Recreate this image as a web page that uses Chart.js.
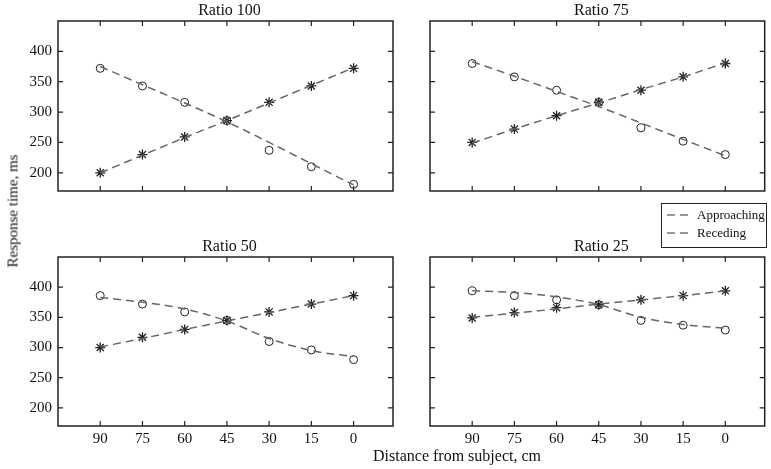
<!DOCTYPE html>
<html>
<head>
<meta charset="utf-8">
<script src="https://cdn.jsdelivr.net/npm/chart.js@4"></script>
<style>
  body { margin: 0; background: #fff; font-family: "Liberation Serif", serif; }
  #page { position: relative; width: 771px; height: 469px; overflow: hidden; }
  .panel { position: absolute; }
  .axis-label { position: absolute; font-size: 16px; color: #111; white-space: nowrap; }
  #ylabel { left: 13px; top: 211px; transform: translate(-50%, -50%) rotate(-90deg); font-size: 15px; }
  #xlabel { left: 457px; top: 456px; transform: translate(-50%, -50%); }
  #legend {
    position: absolute; left: 661px; top: 203px; width: 104px; height: 41px;
    border: 1.5px solid #222; font-size: 13px; color: #111; padding: 2px 0 0 0;
  }
  #legend .row { display: flex; align-items: center; height: 18px; }
  #legend svg { margin: 0 8px 0 5px; }
</style>
</head>
<body>
<div id="page">
  <div class="panel" style="left:0;top:0;width:400px;height:200px"><canvas id="c100"></canvas></div>
  <div class="panel" style="left:400px;top:0;width:371px;height:200px"><canvas id="c75"></canvas></div>
  <div class="panel" style="left:0;top:230px;width:400px;height:230px"><canvas id="c50"></canvas></div>
  <div class="panel" style="left:400px;top:230px;width:371px;height:230px"><canvas id="c25"></canvas></div>

  <div id="ylabel" class="axis-label">Response time, ms</div>
  <div id="xlabel" class="axis-label">Distance from subject, cm</div>

  <div id="legend">
    <div class="row"><svg width="22" height="4"><line x1="0" y1="2" x2="22" y2="2" stroke="#777" stroke-width="1.5" stroke-dasharray="8,5"/></svg>Approaching</div>
    <div class="row"><svg width="22" height="4"><line x1="0" y1="2" x2="22" y2="2" stroke="#777" stroke-width="1.5" stroke-dasharray="8,5"/></svg>Receding</div>
  </div>
</div>

<script>
  // Distance from subject, cm
  const distances = [90, 75, 60, 45, 30, 15, 0];
  const xTicks = [90, 75, 60, 45, 30, 15, 0];
  const yTicks = [200, 250, 300, 350, 400];

  // Ratio 100
  const approach100 = [372, 343, 316, 286, 237, 210, 181];
  const recede100 = [200, 230, 259, 286, 316, 343, 372];
  const approachFit100 = [375, 345, 315, 284, 250, 215, 180];
  const recedeFit100 = [200, 229, 258, 286, 315, 344, 373];

  // Ratio 75
  const approach75 = [380, 358, 336, 316, 274, 252, 230];
  const recede75 = [250, 272, 294, 316, 336, 358, 380];
  const approachFit75 = [383, 359, 334, 309, 282, 255, 228];
  const recedeFit75 = [249, 272, 294, 315, 337, 358, 381];

  // Ratio 50
  const approach50 = [386, 372, 359, 345, 310, 296, 280];
  const recede50 = [300, 317, 330, 345, 359, 372, 386];
  const approachFit50 = [383, 375, 364, 344, 315, 295, 285];
  const recedeFit50 = [301, 315, 330, 344, 358, 372, 386];

  // Ratio 25
  const approach25 = [394, 386, 379, 371, 345, 337, 329];
  const recede25 = [349, 358, 366, 371, 379, 386, 394];
  const approachFit25 = [394, 391, 384, 371, 350, 338, 332];
  const recedeFit25 = [350, 357, 364, 372, 379, 386, 394];

  const FONT = 'Liberation Serif';

  // Khung + vạch chia hướng vào trong, và tiêu đề panel
  const framePlugin = {
    id: 'frame',
    afterDraw(chart, args, opts) {
      const { ctx, chartArea: a, scales } = chart;
      ctx.save();
      ctx.strokeStyle = '#222';
      ctx.lineWidth = 1.5;
      ctx.strokeRect(a.left, a.top, a.right - a.left, a.bottom - a.top);
      ctx.lineWidth = 1.2;
      ctx.beginPath();
      const len = 5;
      xTicks.forEach(v => {
        const px = scales.x.getPixelForValue(v);
        ctx.moveTo(px, a.top); ctx.lineTo(px, a.top + len);
        ctx.moveTo(px, a.bottom); ctx.lineTo(px, a.bottom - len);
      });
      yTicks.forEach(v => {
        const py = scales.y.getPixelForValue(v);
        ctx.moveTo(a.left, py); ctx.lineTo(a.left + len, py);
        ctx.moveTo(a.right, py); ctx.lineTo(a.right - len, py);
      });
      ctx.stroke();

      ctx.fillStyle = '#111';
      ctx.font = '16px "' + FONT + '"';
      ctx.textAlign = 'center';
      ctx.textBaseline = 'middle';
      ctx.fillText(opts.text, (a.left + a.right) / 2 + 4, a.top - 10);
      ctx.restore();
    }
  };

  function toPoints(values) {
    return distances.map((d, i) => ({ x: d, y: values[i] }));
  }

  // bỏ phần đệm tự động do nhãn tick ở mép
  function noPad(scale) {
    scale.paddingTop = 0;
    scale.paddingBottom = 0;
    scale.paddingLeft = 0;
    scale.paddingRight = 0;
  }

  function makePanel(id, title, approach, recede, approachFit, recedeFit, cfg) {
    const fitStyle = {
      type: 'line',
      borderColor: '#666',
      borderWidth: 1.5,
      borderDash: [8, 5],
      pointRadius: 0,
      cubicInterpolationMode: 'monotone',
      fill: false
    };

    return new Chart(document.getElementById(id), {
      type: 'scatter',
      data: {
        datasets: [
          Object.assign({ label: 'Approaching', data: toPoints(approachFit) }, fitStyle),
          Object.assign({ label: 'Receding', data: toPoints(recedeFit) }, fitStyle),
          {
            label: 'Approaching (data)',
            data: toPoints(approach),
            showLine: false,
            pointStyle: 'circle',
            pointRadius: 4,
            borderColor: '#222',
            borderWidth: 1,
            backgroundColor: 'rgba(255,255,255,0)'
          },
          {
            label: 'Receding (data)',
            data: toPoints(recede),
            showLine: false,
            pointStyle: 'star',
            pointRadius: 5,
            borderColor: '#222',
            borderWidth: 1.3,
            backgroundColor: '#222'
          }
        ]
      },
      options: {
        responsive: true,
        maintainAspectRatio: false,
        animation: false,
        layout: { padding: { top: cfg.padTop, right: cfg.padRight, bottom: 0, left: 0 } },
        plugins: {
          legend: { display: false },
          tooltip: { enabled: false },
          frame: { text: title }
        },
        scales: {
          x: {
            type: 'linear',
            reverse: true,
            min: -14,
            max: 105,
            afterBuildTicks: scale => { scale.ticks = xTicks.map(v => ({ value: v })); },
            afterFit: scale => { scale.height = cfg.xHeight; noPad(scale); },
            grid: { display: false, drawTicks: false },
            border: { display: false },
            ticks: {
              display: cfg.showX,
              padding: 4,
              color: '#111',
              font: { family: FONT, size: 15 }
            }
          },
          y: {
            type: 'linear',
            min: 170,
            max: 450,
            afterBuildTicks: scale => { scale.ticks = yTicks.map(v => ({ value: v })); },
            afterFit: scale => { scale.width = cfg.yWidth; noPad(scale); },
            grid: { display: false, drawTicks: false },
            border: { display: false },
            ticks: {
              display: cfg.showY,
              padding: 6,
              color: '#111',
              font: { family: FONT, size: 15 }
            }
          }
        }
      },
      plugins: [framePlugin]
    });
  }

  makePanel('c100', 'Ratio 100', approach100, recede100, approachFit100, recedeFit100,
    { padTop: 21, padRight: 7, xHeight: 9, yWidth: 58, showX: false, showY: true });
  makePanel('c75', 'Ratio 75', approach75, recede75, approachFit75, recedeFit75,
    { padTop: 21, padRight: 3, xHeight: 9, yWidth: 30, showX: false, showY: false });
  makePanel('c50', 'Ratio 50', approach50, recede50, approachFit50, recedeFit50,
    { padTop: 27, padRight: 7, xHeight: 34, yWidth: 58, showX: true, showY: true });
  makePanel('c25', 'Ratio 25', approach25, recede25, approachFit25, recedeFit25,
    { padTop: 27, padRight: 3, xHeight: 34, yWidth: 30, showX: true, showY: false });
</script>
</body>
</html>
